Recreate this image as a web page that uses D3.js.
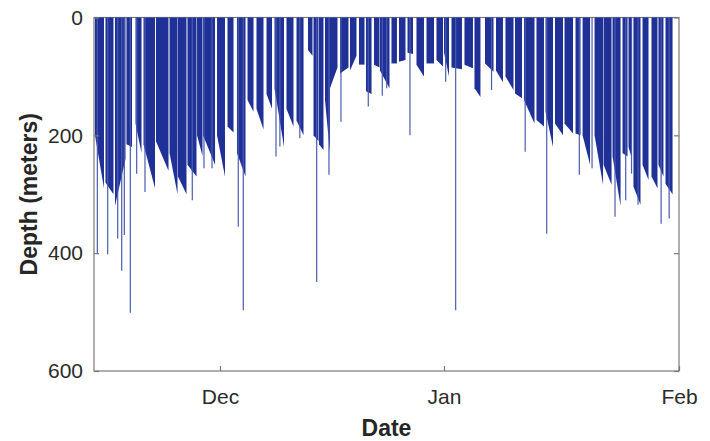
<!DOCTYPE html>
<html>
<head>
<meta charset="utf-8">
<script src="https://cdn.jsdelivr.net/npm/d3@7"></script>
<style>
  body { margin: 0; background: #fff; }
  svg { display: block; }
</style>
</head>
<body>
<div id="chart"></div>
<script>
// days counted from the first day of the record (14 Nov)
var startDay = new Date(2014, 10, 14);

// diving bouts: start day, end day, depth at start of bout, depth at end of bout
var boutStart = [0.13, 1.55, 2.83, 4.38, 5.60, 6.68, 8.36, 10.19, 11.33, 12.61,
                 13.90, 14.71, 16.60, 18.04, 19.35, 20.81, 22.05, 23.44, 24.54, 26.20,
                 27.59, 29.18, 29.94, 30.70, 31.53, 32.22, 33.61, 34.99, 36.24, 37.20,
                 38.31, 39.14, 40.73, 41.77, 42.95, 44.19, 45.58, 46.96, 48.00, 48.99,
                 50.70, 52.02, 53.41, 54.86, 56.11, 57.37, 58.55, 60.20, 61.39, 62.64,
                 63.90, 65.35, 66.28, 67.86, 69.05, 70.23, 71.55, 72.34, 72.99, 74.19,
                 75.37, 76.29, 77.22];
var boutEnd   = [1.35, 2.63, 4.25, 5.13, 6.41, 8.23, 10.05, 11.27, 12.48, 13.83,
                 14.64, 16.33, 17.69, 18.87, 20.53, 21.64, 23.02, 24.20, 25.86, 27.17,
                 28.56, 29.80, 30.63, 31.32, 32.22, 33.26, 34.78, 35.89, 37.00, 37.97,
                 39.07, 40.46, 41.49, 42.67, 43.71, 45.23, 46.62, 47.86, 48.66, 50.37,
                 51.82, 52.81, 54.53, 55.78, 57.17, 58.29, 59.94, 61.19, 62.38, 63.70,
                 65.02, 66.01, 67.27, 68.98, 70.10, 71.29, 72.21, 72.80, 73.92, 74.98,
                 76.16, 76.95, 78.15];
var depthA    = [200, 280, 320, 215, 180, 215, 210, 230, 270, 250,
                 200, 200, 200, 185, 230, 140, 155, 130, 120, 155,
                 175, 55, 200, 215, 140, 120, 95, 90, 80, 125,
                 80, 90, 78, 75, 60, 80, 78, 72, 60, 85,
                 80, 120, 78, 90, 100, 129, 140, 174, 160, 180,
                 180, 197, 200, 200, 250, 235, 230, 220, 287, 250,
                 270, 250, 282];
var depthB    = [290, 300, 240, 220, 230, 290, 260, 300, 300, 270,
                 235, 250, 270, 195, 270, 160, 190, 155, 220, 185,
                 200, 65, 210, 225, 230, 85, 85, 65, 80, 130,
                 85, 120, 78, 72, 62, 100, 78, 83, 100, 88,
                 86, 135, 92, 110, 123, 137, 180, 185, 220, 200,
                 197, 200, 250, 284, 284, 320, 236, 240, 318, 276,
                 290, 270, 300];

// single deep dives standing out below the bouts
var spikeDay   = [0.45, 1.85, 3.20, 3.74, 4.09, 4.90, 5.76, 6.88, 13.26, 14.84,
                  15.92, 19.53, 20.22, 24.75, 25.29, 28.05, 30.38, 32.08, 33.74, 37.52,
                  39.46, 40.07, 43.29, 48.22, 49.54, 54.27, 58.71, 61.55, 65.85, 67.53,
                  70.56, 71.97, 72.74, 73.60, 76.64, 77.70];
var spikeDepth = [401, 402, 375, 430, 369, 501, 265, 296, 310, 256,
                  256, 355, 497, 236, 219, 205, 449, 267, 177, 151,
                  133, 120, 200, 109, 497, 123, 228, 367, 267, 256,
                  338, 310, 265, 318, 350, 341];

var depthTicks = [0, 200, 400, 600];
var monthTicks = [new Date(2014, 11, 1), new Date(2015, 0, 1), new Date(2015, 1, 1)];

function dayToDate(d) {
    return new Date(startDay.getTime() + d * 864e5);
}

var width = 710, height = 441;
var plotLeft = 94, plotRight = 679, plotTop = 17.5, plotBottom = 371;

var svg = d3.select("#chart")
        .append("svg")
        .attr("width", width)
        .attr("height", height);

var x = d3.scaleTime()
        .domain([startDay, monthTicks[0], monthTicks[1], monthTicks[2]])
        .range([plotLeft, 220, 444, plotRight]);

var y = d3.scaleLinear()
        .domain([0, 600])
        .range([plotTop, plotBottom]);

var font = "'Liberation Sans', Arial, Helvetica, sans-serif";

// box
svg.append("rect")
        .attr("x", plotLeft)
        .attr("y", plotTop)
        .attr("width", plotRight - plotLeft)
        .attr("height", plotBottom - plotTop)
        .attr("fill", "none")
        .attr("stroke", "#7a7a7a")
        .attr("stroke-width", 1.2);

// bouts
var bouts = d3.range(boutStart.length).map(function (i) {
    return [
        [x(dayToDate(boutStart[i])), y(0)],
        [x(dayToDate(boutEnd[i])), y(0)],
        [x(dayToDate(boutEnd[i])), y(depthB[i])],
        [x(dayToDate(boutStart[i])), y(depthA[i])]
    ];
});

svg.append("g")
        .selectAll("polygon")
        .data(bouts)
        .enter()
        .append("polygon")
        .attr("points", function (p) { return p.join(" "); })
        .attr("fill", "#1f3196");

// deep dives
svg.append("g")
        .selectAll("line")
        .data(spikeDay)
        .enter()
        .append("line")
        .attr("x1", function (d) { return x(dayToDate(d)); })
        .attr("x2", function (d) { return x(dayToDate(d)); })
        .attr("y1", y(0))
        .attr("y2", function (d, i) { return y(spikeDepth[i]); })
        .attr("stroke", "#4a5bb0")
        .attr("stroke-width", 1.2);

// axes
var yAxis = d3.axisLeft(y)
        .tickValues(depthTicks)
        .tickSizeInner(-5)
        .tickSizeOuter(0)
        .tickPadding(11);

var yAxisRight = d3.axisLeft(y)
        .tickValues(depthTicks)
        .tickSizeInner(5)
        .tickSizeOuter(0)
        .tickFormat("");

var xAxis = d3.axisBottom(x)
        .tickValues(monthTicks)
        .tickFormat(d3.timeFormat("%b"))
        .tickSizeInner(-5)
        .tickSizeOuter(0)
        .tickPadding(18);

var gy = svg.append("g")
        .attr("transform", "translate(" + plotLeft + ",0)")
        .call(yAxis);

var gyr = svg.append("g")
        .attr("transform", "translate(" + plotRight + ",0)")
        .call(yAxisRight);

var gx = svg.append("g")
        .attr("transform", "translate(0," + plotBottom + ")")
        .call(xAxis);

[gy, gyr, gx].forEach(function (g) {
    g.select(".domain").remove();
    g.selectAll(".tick line").attr("stroke", "#7a7a7a").attr("stroke-width", 1.2);
    g.selectAll("text")
        .attr("fill", "#2b2b2b")
        .attr("font-family", font)
        .attr("font-size", "21px");
});

// axis titles
svg.append("text")
        .attr("transform", "translate(37," + ((plotTop + plotBottom) / 2) + ") rotate(-90)")
        .attr("text-anchor", "middle")
        .attr("font-family", font)
        .attr("font-weight", "bold")
        .attr("font-size", "23px")
        .attr("fill", "#262626")
        .text("Depth (meters)");

svg.append("text")
        .attr("x", (plotLeft + plotRight) / 2)
        .attr("y", 436)
        .attr("text-anchor", "middle")
        .attr("font-family", font)
        .attr("font-weight", "bold")
        .attr("font-size", "23px")
        .attr("fill", "#262626")
        .text("Date");
</script>
</body>
</html>
